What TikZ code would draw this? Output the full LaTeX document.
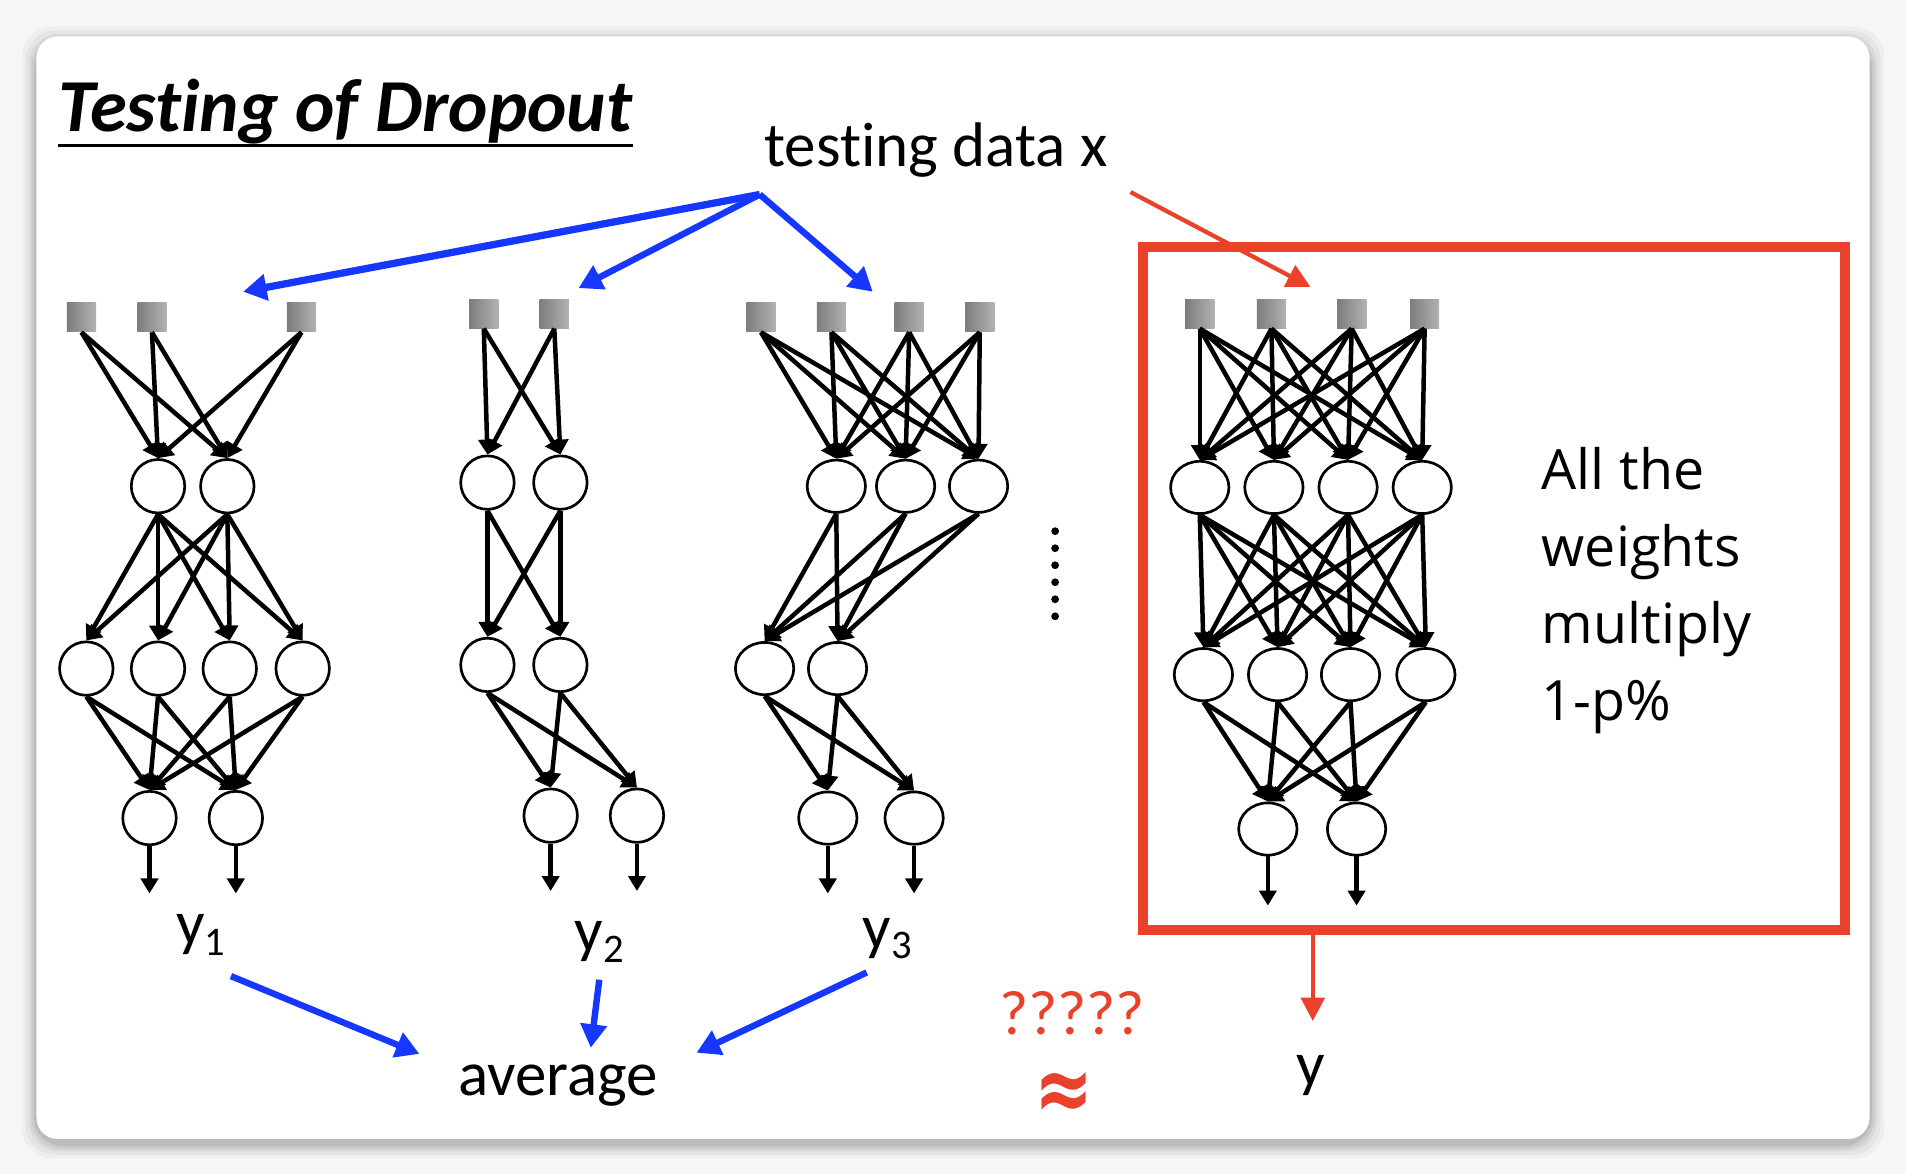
\documentclass[tikz,border=0pt]{standalone}
\usepackage{fontspec}
\usepackage{graphicx}
\setmainfont{Carlito}[Ligatures=NoCommon]
\newfontfamily\osans{Open Sans}
\newfontfamily\djv{DejaVu Sans}
\usetikzlibrary{arrows.meta,shapes.geometric}
\definecolor{myblue}{RGB}{22,55,255}
\definecolor{myred}{RGB}{234,66,42}
\definecolor{bggray}{RGB}{246,246,246}
\definecolor{sqdark}{RGB}{125,125,125}
\definecolor{sqlight}{RGB}{178,178,178}
\begin{document}
\begin{tikzpicture}[x=0.02cm,y=-0.02cm,
  inp/.style={rectangle,inner sep=0pt,minimum size=0.48cm,left color=sqdark,right color=sqlight,draw=none},
  neuron/.style={circle,draw=black,line width=1.25pt,fill=white,inner sep=0pt,minimum size=0.88cm},
  eneuron/.style={ellipse,draw=black,line width=1.25pt,fill=white,inner sep=0pt,minimum width=0.96cm,minimum height=0.86cm},
  edge/.style={-{Triangle[length=7pt,width=8pt]},line width=2.1pt,black},
  bluearrow/.style={-{Triangle[length=11pt,width=12pt]},line width=3pt,myblue},
  redarrow/.style={-{Triangle[length=11pt,width=11pt]},line width=2pt,myred},
  txt/.style={font=\fontsize{29.5}{34}\selectfont,inner sep=0pt}]
% background and card
\fill[bggray] (0,0) rectangle (1568,966);
\foreach \o/\a in {12/0.03,9/0.04,6/0.05,4/0.06,2/0.08}
  \fill[black,opacity=\a,rounded corners=14] (30-\o,30-\o+4) rectangle (1538+\o,937+\o+4);
\fill[white,rounded corners=10] (30,30) rectangle (1538,937);
\useasboundingbox (0,0) rectangle (1568,966);

% title
\node[anchor=base west,inner sep=0pt,font=\bfseries\itshape\fontsize{35}{40}\selectfont] (title) at (48,108) {Testing of Dropout};
\draw[line width=1.8pt] (title.south west) ++(0,1) coordinate (ulA) -- (ulA -| title.south east);

\node[txt,anchor=base] (tdx) at (770,137) {testing data x};

% ---------- Net 1 ----------
\node[inp] (A1) at (67,261) {};
\node[inp] (A2) at (125,261) {};
\node[inp] (A3) at (248,261) {};
\node[neuron] (AB1) at (130,400) {};
\node[neuron] (AB2) at (187,400) {};
\node[neuron] (AC1) at (71,550) {};
\node[neuron] (AC2) at (130,550) {};
\node[neuron] (AC3) at (189,550) {};
\node[neuron] (AC4) at (249,550) {};
\node[neuron] (AD1) at (123,673) {};
\node[neuron] (AD2) at (194,673) {};
\coordinate (AO1) at (123,735);
\coordinate (AO2) at (194,735);
\foreach \s in {A1,A2,A3} \foreach \t in {AB1,AB2} \draw[edge] (\s.south) -- (\t.north);
\foreach \s in {AB1,AB2} \foreach \t in {AC1,AC2,AC3,AC4} \draw[edge] (\s.south) -- (\t.north);
\foreach \s in {AC1,AC2,AC3,AC4} \foreach \t in {AD1,AD2} \draw[edge] (\s.south) -- (\t.north);
\draw[edge] (AD1.south) -- (AO1);
\draw[edge] (AD2.south) -- (AO2);

% ---------- Net 2 ----------
\node[inp] (B1) at (398,258) {};
\node[inp] (B2) at (456,258) {};
\node[neuron] (BB1) at (401,397) {};
\node[neuron] (BB2) at (461,397) {};
\node[neuron] (BC1) at (401,547) {};
\node[neuron] (BC2) at (461,547) {};
\node[neuron] (BD1) at (453,671) {};
\node[neuron] (BD2) at (524,671) {};
\coordinate (BO1) at (453,733);
\coordinate (BO2) at (524,733);
\foreach \s in {B1,B2} \foreach \t in {BB1,BB2} \draw[edge] (\s.south) -- (\t.north);
\foreach \s in {BB1,BB2} \foreach \t in {BC1,BC2} \draw[edge] (\s.south) -- (\t.north);
\foreach \s in {BC1,BC2} \foreach \t in {BD1,BD2} \draw[edge] (\s.south) -- (\t.north);
\draw[edge] (BD1.south) -- (BO1);
\draw[edge] (BD2.south) -- (BO2);

% ---------- Net 3 ----------
\node[inp] (C1) at (626,261) {};
\node[inp] (C2) at (684,261) {};
\node[inp] (C3) at (748,261) {};
\node[inp] (C4) at (806,261) {};
\node[eneuron] (CB1) at (688,400) {};
\node[eneuron] (CB2) at (745,400) {};
\node[eneuron] (CB3) at (805,400) {};
\node[eneuron] (CC1) at (629,550) {};
\node[eneuron] (CC2) at (689,550) {};
\node[eneuron] (CD1) at (681,673) {};
\node[eneuron] (CD2) at (752,673) {};
\coordinate (CO1) at (681,735);
\coordinate (CO2) at (752,735);
\foreach \s in {C1,C2,C3,C4} \foreach \t in {CB1,CB2,CB3} \draw[edge] (\s.south) -- (\t.north);
\foreach \s in {CB1,CB2,CB3} \foreach \t in {CC1,CC2} \draw[edge] (\s.south) -- (\t.north);
\foreach \s in {CC1,CC2} \foreach \t in {CD1,CD2} \draw[edge] (\s.south) -- (\t.north);
\draw[edge] (CD1.south) -- (CO1);
\draw[edge] (CD2.south) -- (CO2);

% vertical dots
\foreach \k in {0,...,5} \fill[black] (868,437+14*\k) circle (3.2);

% ---------- Net 4 ----------
\node[inp] (D1) at (987,258) {};
\node[inp] (D2) at (1046,258) {};
\node[inp] (D3) at (1112,258) {};
\node[inp] (D4) at (1172,258) {};
\node[eneuron] (DB1) at (987,401) {};
\node[eneuron] (DB2) at (1048,401) {};
\node[eneuron] (DB3) at (1109,401) {};
\node[eneuron] (DB4) at (1170,401) {};
\node[eneuron] (DC1) at (990,555) {};
\node[eneuron] (DC2) at (1051,555) {};
\node[eneuron] (DC3) at (1111,555) {};
\node[eneuron] (DC4) at (1173,555) {};
\node[eneuron] (DD1) at (1043,682) {};
\node[eneuron] (DD2) at (1116,682) {};
\coordinate (DO1) at (1043,745);
\coordinate (DO2) at (1116,745);
\foreach \s in {D1,D2,D3,D4} \foreach \t in {DB1,DB2,DB3,DB4} \draw[edge] (\s.south) -- (\t.north);
\foreach \s in {DB1,DB2,DB3,DB4} \foreach \t in {DC1,DC2,DC3,DC4} \draw[edge] (\s.south) -- (\t.north);
\foreach \s in {DC1,DC2,DC3,DC4} \foreach \t in {DD1,DD2} \draw[edge] (\s.south) -- (\t.north);
\draw[edge] (DD1.south) -- (DO1);
\draw[edge] (DD2.south) -- (DO2);

% red box
\node[draw=myred,line width=4.5pt,inner sep=0pt,minimum width=11.56cm,minimum height=11.24cm] (box) at (1229,484) {};
\node[anchor=north west,inner sep=0pt,align=left,font=\osans\fontsize{26}{36}\selectfont] (note) at (1268,368) {All the\\weights\\multiply\\1-p\%};

% labels
\node[txt,anchor=base] (y1) at (165,777) {y\raisebox{-5pt}{\fontsize{19}{20}\selectfont 1}};
\node[txt,anchor=base] (y2) at (493,783) {y\raisebox{-5pt}{\fontsize{19}{20}\selectfont 2}};
\node[txt,anchor=base] (y3) at (730,780) {y\raisebox{-5pt}{\fontsize{19}{20}\selectfont 3}};
\node[txt,anchor=base] (avg) at (459,901) {average};
\node[txt,anchor=base,text=myred] (qq) at (882,851) {?????};
\node[inner sep=0pt,text=myred,font=\djv\bfseries\fontsize{30}{34}\selectfont] (approx) at (875,902) {\scalebox{1.1}[1.45]{≈}};
\node[txt,anchor=base] (yy) at (1078,893) {y};

% blue arrows from testing data
\coordinate (bsrc) at (625,160);
\coordinate (bt1) at (200,240);
\coordinate (bt2) at (476,237);
\coordinate (bt3) at (718,240);
\draw[bluearrow,line width=3.4pt] (bsrc) -- (bt1);
\draw[bluearrow] (bsrc) -- (bt2);
\draw[bluearrow] (bsrc) -- (bt3);

% blue arrows to average
\coordinate (s1) at (190,803);
\coordinate (e1) at (345,867);
\coordinate (s2) at (493,806);
\coordinate (e2) at (486,862);
\coordinate (s3) at (713,800);
\coordinate (e3) at (573,866);
\draw[bluearrow] (s1) -- (e1);
\draw[bluearrow] (s2) -- (e2);
\draw[bluearrow] (s3) -- (e3);

% red arrows
\coordinate (rsrc) at (930,158);
\coordinate (rt) at (1078,236);
\draw[redarrow] (rsrc) -- (rt);
\coordinate (ry) at (1080,840);
\draw[redarrow] (box.south -| ry) -- (ry);
\end{tikzpicture}
\end{document}
